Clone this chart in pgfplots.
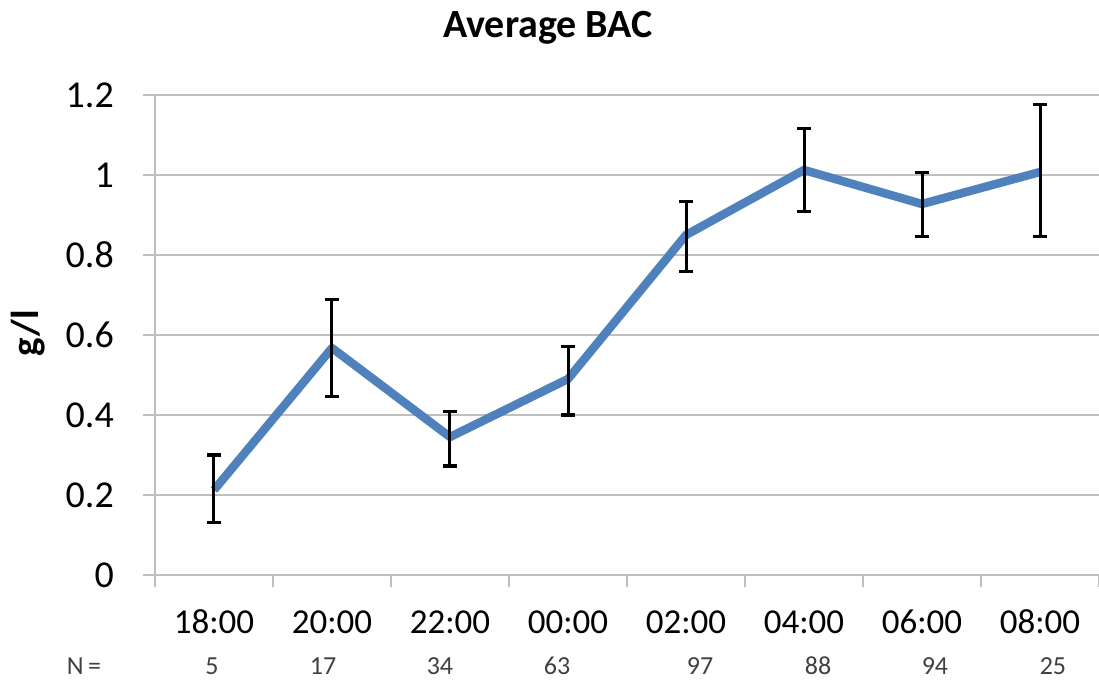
\documentclass[border=0pt]{standalone}
\usepackage{pgfplots}
\pgfplotsset{compat=1.18}
\usepackage{pgfplotstable}
\usepackage{fontspec}
\setmainfont{Carlito}
\definecolor{exblue}{HTML}{4F81BD}
\definecolor{gridgray}{HTML}{BFBFBF}
\definecolor{ntext}{HTML}{404040}

\pgfplotstableread{
x y ep em
0 0.2125 0.0875 0.0800
1 0.5675 0.1200 0.1225
2 0.3450 0.0625 0.0725
3 0.4900 0.0800 0.0900
4 0.8500 0.0825 0.0925
5 1.0125 0.1025 0.1050
6 0.9275 0.0775 0.0825
7 1.0075 0.1675 0.1625
}\bacdata

\begin{document}
\begin{tikzpicture}
\path[use as bounding box] (-155bp,-108bp) rectangle (944bp,575bp);
\begin{axis}[
  at={(0,0)}, anchor=south west,
  width=944bp, height=480bp, scale only axis,
  xmin=-0.5, xmax=7.5, ymin=0, ymax=1.2,
  axis lines=left,
  axis line style={-, draw=gridgray, line width=1.6bp},
  x tick label as interval,
  xtick={-0.5,0.5,1.5,2.5,3.5,4.5,5.5,6.5,7.5},
  xticklabels={18:00,20:00,22:00,00:00,02:00,04:00,06:00,08:00},
  ytick={0,0.2,0.4,0.6,0.8,1,1.2},
  yticklabels={0,0.2,0.4,0.6,0.8,1,1.2},
  tick align=outside,
  major tick length=12bp,
  tick style={draw=gridgray, line width=1.6bp},
  ymajorgrids,
  major grid style={draw=gridgray, line width=1.6bp},
  yticklabel style={font=\fontsize{38bp}{42bp}\selectfont, anchor=east, inner sep=0pt, xshift=-29bp},
  xticklabel style={font=\fontsize{35bp}{40bp}\selectfont, anchor=base, inner sep=0pt, yshift=-46bp},
  clip=false,
]
\addplot[color=exblue, line width=8.5bp, line join=round, mark=none,
  error bars/.cd, y dir=both, y explicit,
  error bar style={black, line width=3bp},
  error mark options={black, rotate=90, mark size=7bp, line width=3bp}]
  table[x=x, y=y, y error plus=ep, y error minus=em] {\bacdata};

\node[font=\bfseries\fontsize{40bp}{44bp}\selectfont, anchor=base] at (axis description cs:0.4163,1.11875) {Average BAC};
\node[font=\bfseries\fontsize{39bp}{42bp}\selectfont, rotate=90, anchor=center] at (axis description cs:-0.1345,0.504) {g/l};

\begin{scope}[every node/.style={font=\fontsize{26bp}{28bp}\selectfont, text=ntext, anchor=base, inner sep=0pt}]
\node at (axis cs:-1.102,0) [yshift=-99bp] {N\,=};
\node at (axis cs:-0.017,0) [yshift=-99bp] {5};
\node at (axis cs:0.924,0) [yshift=-99bp] {17};
\node at (axis cs:1.915,0) [yshift=-99bp] {34};
\node at (axis cs:2.907,0) [yshift=-99bp] {63};
\node at (axis cs:4.119,0) [yshift=-99bp] {97};
\node at (axis cs:5.119,0) [yshift=-99bp] {88};
\node at (axis cs:6.110,0) [yshift=-99bp] {94};
\node at (axis cs:7.110,0) [yshift=-99bp] {25};
\end{scope}
\end{axis}
\end{tikzpicture}
\end{document}
